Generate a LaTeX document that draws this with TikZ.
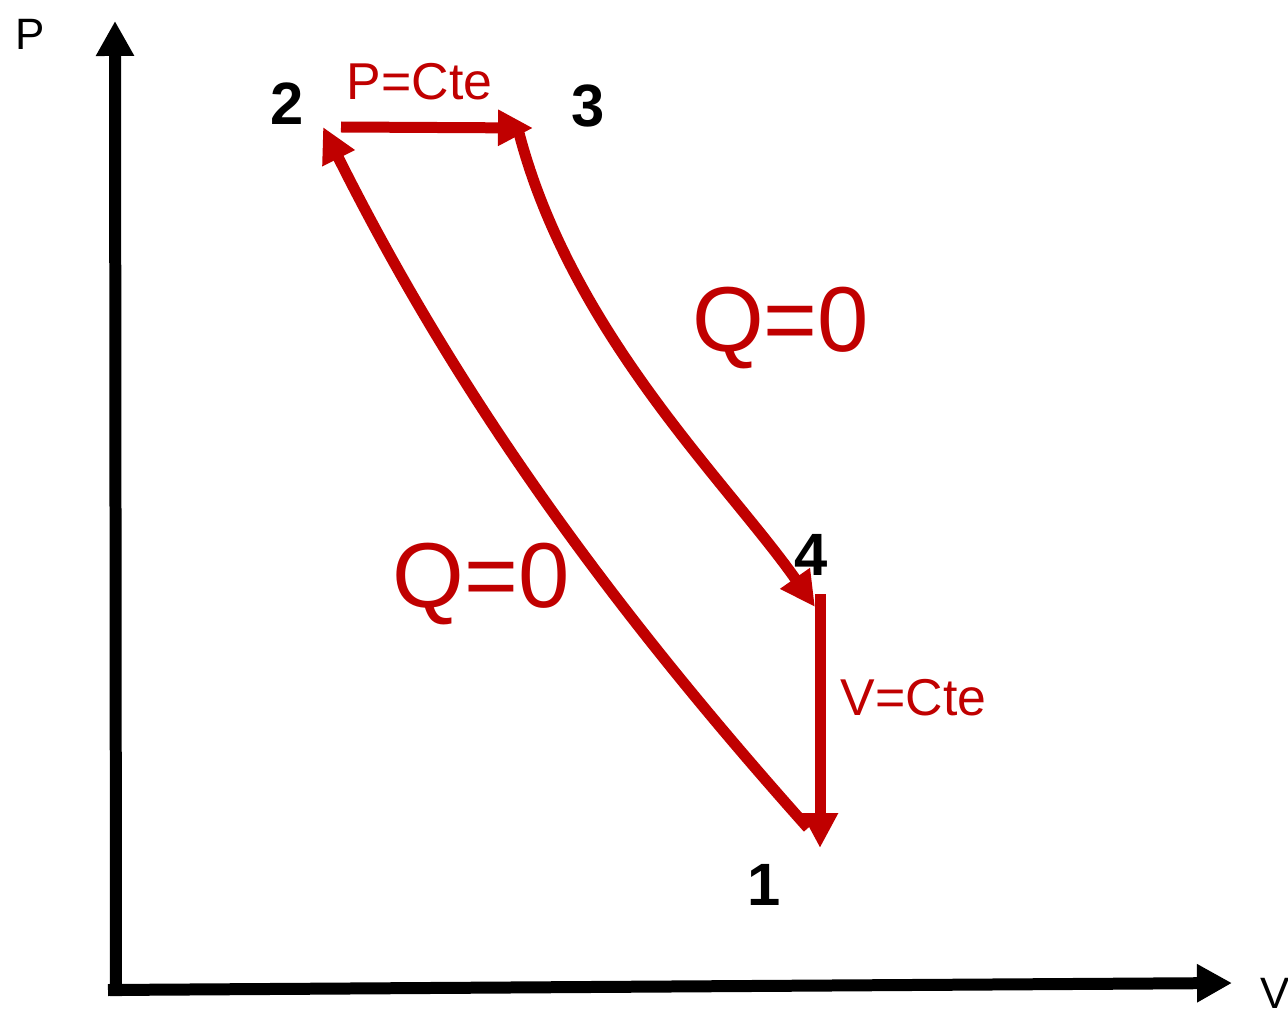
\documentclass[tikz,border=0pt]{standalone}
\usepackage{fontspec}
\setmainfont{Liberation Sans}
\usetikzlibrary{arrows.meta}
\definecolor{cyclered}{RGB}{192,0,0}
\begin{document}
\begin{tikzpicture}[x=0.02cm, y=-0.02cm,
    axis/.style={draw, line width=0.24cm, -{Triangle[length=0.7cm, width=0.72cm]}},
    process/.style={draw=cyclered, line width=0.22cm, -{Triangle[length=0.7cm, width=0.68cm]}},
    state label/.style={font=\fontsize{34}{34}\selectfont\bfseries, anchor=base},
    process label/.style={font=\fontsize{29.5}{30}\selectfont, text=cyclered, anchor=base},
    heat label/.style={font=\fontsize{52.5}{52}\selectfont, text=cyclered, anchor=base},
    axis label/.style={font=\fontsize{25}{25}\selectfont, anchor=base}
]
\useasboundingbox (0,0) rectangle (1288,1010);
% P-V diagram of the Brayton cycle
\coordinate (Pbot) at (116,996);
\coordinate (Ptop) at (115,21);
\coordinate (Vleft) at (108,990);
\coordinate (Vright) at (1232,983);
\draw [axis] (Pbot) -- (Ptop);
\draw [axis] (Vleft) -- (Vright);

\coordinate (s1) at (820,848);
\coordinate (s1 out) at (808,828);
\coordinate (s2) at (323,127);
\coordinate (s2 out) at (341,127);
\coordinate (s3) at (533,128);
\coordinate (s3 out) at (519,133);
\coordinate (s4) at (815,607);
\coordinate (s4 out) at (820,594);

\draw [process] (s1 out) .. controls (608,604) and (457,395) .. (s2);
\draw [process] (s2 out) -- (s3);
\draw [process] (s3 out) .. controls (572,335) and (729,484) .. (s4);
\draw [process] (s4 out) -- (s1);

\node [state label] (n1) at (764,905) {1};
\node [state label] (n2) at (287,125) {2};
\node [state label] (n3) at (588,127) {3};
\node [state label] (n4) at (811,575) {4};

\node [process label] (pcte) at (419.5,100) {P=Cte};
\node [process label] (vcte) at (913.5,715) {V=Cte};
\node [heat label] (qexp) at (780.5,351) {Q=0};
\node [heat label] (qcomp) at (481,607) {Q=0};

\node [axis label] (plabel) at (30,50) {P};
\node [axis label] (vlabel) at (1275,1008) {V};
\end{tikzpicture}
\end{document}
